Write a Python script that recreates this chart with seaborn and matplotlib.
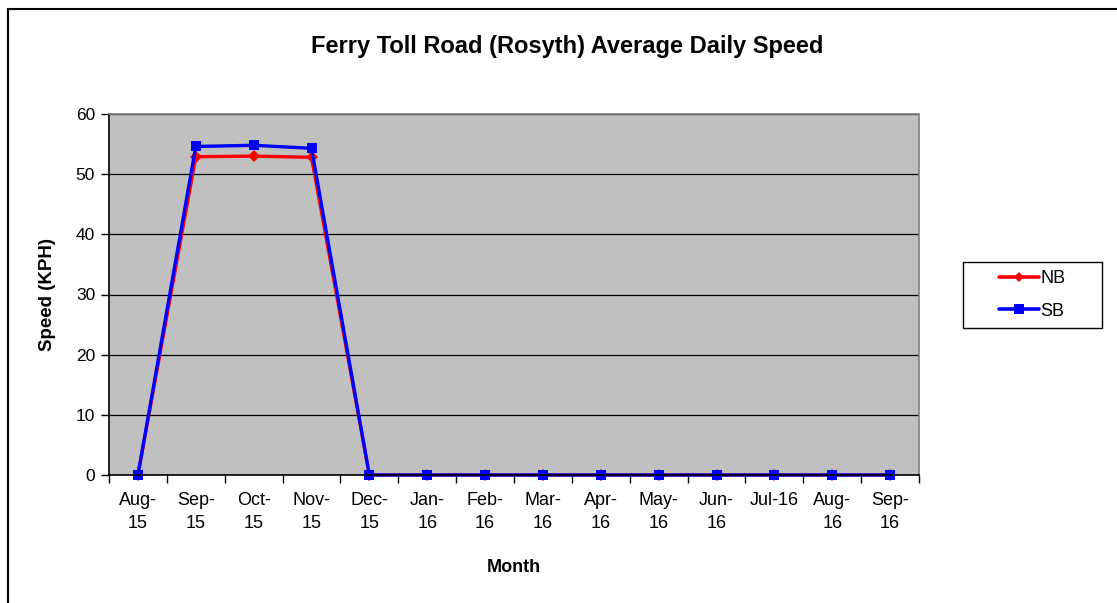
import matplotlib
matplotlib.use("Agg")
import matplotlib.pyplot as plt
from matplotlib.lines import Line2D
from matplotlib.patches import Rectangle
import seaborn as sns
import pandas as pd

months = ["Aug-\n15", "Sep-\n15", "Oct-\n15", "Nov-\n15", "Dec-\n15", "Jan-\n16", "Feb-\n16",
          "Mar-\n16", "Apr-\n16", "May-\n16", "Jun-\n16", "Jul-16", "Aug-\n16", "Sep-\n16"]
nb_speed = [0, 52.9, 53.0, 52.8, 0, 0, 0, 0, 0, 0, 0, 0, 0, 0]
sb_speed = [0, 54.6, 54.8, 54.3, 0, 0, 0, 0, 0, 0, 0, 0, 0, 0]

df = pd.DataFrame({
    "pos": list(range(len(months))) * 2,
    "Speed": nb_speed + sb_speed,
    "Direction": ["NB"] * len(months) + ["SB"] * len(months),
})

sns.set_theme(style="white")
plt.rcParams["font.family"] = ["Liberation Sans", "DejaVu Sans"]
plt.rcParams.update({"text.color": "black", "axes.labelcolor": "black",
                     "xtick.color": "black", "ytick.color": "black"})

fig = plt.figure(figsize=(11.17, 6.03), dpi=100)
ax = fig.add_axes([109 / 1117, 1 - 475 / 603, 810 / 1117, 361 / 603])
ax.set_facecolor("#C0C0C0")

sns.lineplot(data=df, x="pos", y="Speed", hue="Direction", style="Direction",
             palette={"NB": "#FF0000", "SB": "#0000FF"},
             markers={"NB": "D", "SB": "s"}, dashes=False,
             markersize=7, linewidth=2.4, markeredgewidth=0, ax=ax, legend=False)
for line, ms in zip(ax.lines, [6, 7.5]):
    line.set_markersize(ms)
    line.set_clip_on(False)

ax.set_xlim(-0.5, len(months) - 0.5)
ax.set_ylim(0, 60)
ax.set_yticks(range(0, 61, 10))
ax.yaxis.grid(True, color="black", linewidth=0.9)
ax.set_axisbelow(True)

# Tick marks at category boundaries, labels centred on categories
ax.set_xticks([i - 0.5 for i in range(len(months) + 1)])
ax.set_xticklabels([])
ax.set_xticks(range(len(months)), minor=True)
ax.set_xticklabels(months, minor=True, fontsize=13, linespacing=1.45)
ax.tick_params(axis="x", which="major", length=6, width=1, color="black", direction="out", bottom=True)
ax.tick_params(axis="x", which="minor", length=0, pad=12)
ax.tick_params(axis="y", length=6, width=1, color="black", direction="out", left=True, labelsize=12.5, pad=4)

for side in ["left", "bottom"]:
    ax.spines[side].set_color("black")
    ax.spines[side].set_linewidth(1.2)
for side in ["top", "right"]:
    ax.spines[side].set_color("#808080")
    ax.spines[side].set_linewidth(1.2)
    ax.spines[side].set_visible(True)

ax.set_xlabel("Month", fontsize=13, fontweight="bold", labelpad=20)
ax.set_ylabel("Speed (KPH)", fontsize=13.5, fontweight="bold", labelpad=14)
fig.text(567 / 1117, 1 - 46 / 603, "Ferry Toll Road (Rosyth) Average Daily Speed",
         ha="center", va="center", fontsize=17, fontweight="bold")

# Legend: framed box with the entries centred inside it
fig.add_artist(Rectangle((963 / 1117, 1 - 328 / 603), 139 / 1117, 66 / 603,
                         transform=fig.transFigure, facecolor="white", edgecolor="black",
                         linewidth=1.0))
handles = [
    Line2D([], [], color="#FF0000", marker="D", markersize=5, linewidth=2.6, markeredgewidth=0, label="NB"),
    Line2D([], [], color="#0000FF", marker="s", markersize=7, linewidth=2.6, markeredgewidth=0, label="SB"),
]
leg = fig.legend(handles=handles, loc="center", bbox_to_anchor=(1032.5 / 1117, 1 - 295 / 603),
                 frameon=False, fontsize=13, handlelength=2.2, handletextpad=0.1,
                 labelspacing=0.85, borderpad=0, borderaxespad=0)

# Outer chart frame
fig.add_artist(Line2D([8 / 1117, 8 / 1117], [0, 1 - 9 / 603], color="black", linewidth=1.5,
                      transform=fig.transFigure))
fig.add_artist(Line2D([8 / 1117, 1], [1 - 9 / 603, 1 - 9 / 603], color="black", linewidth=1.5,
                      transform=fig.transFigure))

fig.savefig("out.png", dpi=100, facecolor="white")
